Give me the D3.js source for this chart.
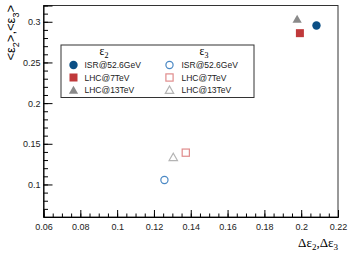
<!DOCTYPE html>
<html>
<head>
<meta charset="utf-8">
<script src="https://cdn.jsdelivr.net/npm/d3@7"></script>
<style>
  body { margin: 0; background: #fff; }
  svg { display: block; font-family: "Liberation Sans", Arial, sans-serif; }
</style>
</head>
<body>
<svg id="chart" width="348" height="253"></svg>
<script>
// data
var series = ["ISR@52.6GeV", "LHC@7TeV", "LHC@13TeV"];
var shapes = ["circle", "square", "triangle"];
var fillCol = ["#0b4f85", "#c0393b", "#8a8a8a"];
var openCol = ["#4a88c4", "#e08c8c", "#b4b4b4"];
var eps2_x = [0.2083, 0.1993, 0.1978];
var eps2_y = [0.2954, 0.2860, 0.3033];
var eps3_x = [0.1257, 0.1373, 0.1305];
var eps3_y = [0.1055, 0.1391, 0.1335];
var xTicks = [0.06, 0.08, 0.1, 0.12, 0.14, 0.16, 0.18, 0.2, 0.22];
var yTicks = [0.1, 0.15, 0.2, 0.25, 0.3];

var svg = d3.select("#chart");
var L = 43.5, R = 338, T = 5.5, B = 217;

var x = d3.scaleLinear().domain([0.06, 0.22]).range([L, R]);
var y = d3.scaleLinear().domain([0.06, 0.32]).range([B, T]);

// frame
svg.append("rect").attr("x", L).attr("y", T).attr("width", R - L).attr("height", B - T)
  .attr("fill", "none").attr("stroke", "#333").attr("stroke-width", 1);

// x axis, minor ticks every 0.005
var xMinor = d3.range(0.06, 0.2201, 0.005);
svg.append("g").attr("transform", "translate(0," + B + ")")
  .call(d3.axisTop(x).tickValues(xMinor).tickSize(3.5).tickFormat(""))
  .call(function (g) { g.select(".domain").remove(); });
var gx = svg.append("g").attr("transform", "translate(0," + B + ")")
  .call(d3.axisTop(x).tickValues(xTicks).tickSize(7).tickFormat(d3.format("")));
gx.select(".domain").attr("stroke", "#000");
gx.selectAll("text").attr("y", 12.5).attr("dy", "0").attr("font-size", 9).attr("fill", "#222")
  .attr("font-family", "Liberation Sans, Arial, sans-serif");

// y axis, minor ticks every 0.01
var yMinor = d3.range(0.06, 0.3201, 0.01);
svg.append("g").attr("transform", "translate(" + L + ",0)")
  .call(d3.axisRight(y).tickValues(yMinor).tickSize(4.5).tickFormat(""))
  .call(function (g) { g.select(".domain").remove(); });
var gy = svg.append("g").attr("transform", "translate(" + L + ",0)")
  .call(d3.axisRight(y).tickValues(yTicks).tickSize(9).tickFormat(d3.format("")));
gy.select(".domain").attr("stroke", "#000");
gy.selectAll("text").attr("x", -3).attr("text-anchor", "end").attr("font-size", 9).attr("fill", "#222")
  .attr("font-family", "Liberation Sans, Arial, sans-serif");

// axis titles
var xt = svg.append("text").attr("x", R).attr("y", 247).attr("text-anchor", "end")
  .attr("font-family", "Liberation Serif, Times New Roman, serif").attr("font-size", 13);
xt.append("tspan").text("\u0394\u03b5");
xt.append("tspan").attr("font-size", 9).attr("dy", 3).text("2");
xt.append("tspan").attr("dy", -3).text(",\u0394\u03b5");
xt.append("tspan").attr("font-size", 9).attr("dy", 3).text("3");

var yt = svg.append("text").attr("transform", "translate(15,5) rotate(-90)").attr("text-anchor", "end")
  .attr("font-family", "Liberation Sans, Arial, sans-serif").attr("font-size", 13);
yt.append("tspan").text("<\u03b5");
yt.append("tspan").attr("font-size", 9).attr("dy", 3.5).text("2");
yt.append("tspan").attr("dy", -3.5).text(">,<\u03b5");
yt.append("tspan").attr("font-size", 9).attr("dy", 3.5).text("3");
yt.append("tspan").attr("dy", -3.5).text(">");

// markers
function marker(g, shape, cx, cy, filled, col) {
  var s;
  if (shape === "circle") {
    s = g.append("circle").attr("cx", cx).attr("cy", cy).attr("r", filled ? 4.2 : 3.6);
  } else if (shape === "square") {
    s = g.append("rect").attr("x", cx - (filled ? 4 : 3.6)).attr("y", cy - (filled ? 4 : 3.6))
      .attr("width", filled ? 8 : 7.2).attr("height", filled ? 8 : 7.2);
  } else {
    var h = filled ? 4.6 : 4.2;
    s = g.append("path").attr("d", d3.line()([[cx - h, cy + h * 0.8], [cx + h, cy + h * 0.8], [cx, cy - h * 0.95]]) + "Z");
  }
  if (filled) s.attr("fill", col).attr("stroke", "none");
  else s.attr("fill", "none").attr("stroke", col).attr("stroke-width", 1.2);
}

var pts = svg.append("g");
series.forEach(function (name, i) {
  marker(pts, shapes[i], x(eps2_x[i]), y(eps2_y[i]), true, fillCol[i]);
  marker(pts, shapes[i], x(eps3_x[i]), y(eps3_y[i]), false, openCol[i]);
});

// legend
var lg = svg.append("g");
lg.append("rect").attr("x", 61).attr("y", 45).attr("width", 193).attr("height", 52.5)
  .attr("fill", "#fff").attr("stroke", "#333").attr("stroke-width", 1);
function eps(xpos, sub) {
  var t = lg.append("text").attr("x", xpos).attr("y", 55).attr("text-anchor", "middle")
    .attr("font-size", 11.5).attr("font-family", "Liberation Serif, Times New Roman, serif");
  t.append("tspan").text("\u03b5");
  t.append("tspan").attr("font-size", 8).attr("dy", 3).text(sub);
}
eps(104, "2");
eps(204, "3");
series.forEach(function (name, i) {
  var yy = 65 + i * 12.5;
  marker(lg, shapes[i], 73.5, yy, true, fillCol[i]);
  lg.append("text").attr("x", 84.5).attr("y", yy + 3).attr("font-size", 8.5).attr("fill", "#222").text(name);
  marker(lg, shapes[i], 169.5, yy, false, openCol[i]);
  lg.append("text").attr("x", 181.5).attr("y", yy + 3).attr("font-size", 8.5).attr("fill", "#222").text(name);
});
</script>
</body>
</html>
